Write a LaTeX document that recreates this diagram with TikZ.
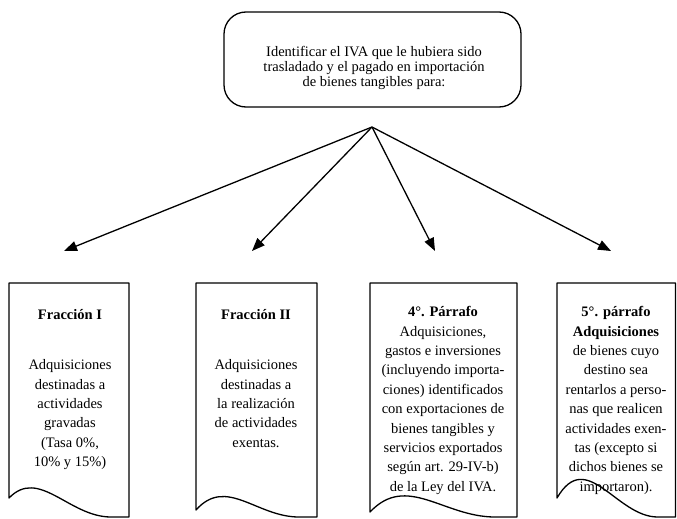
\documentclass[tikz,border=0pt]{standalone}
\usepackage{fontspec}
\setmainfont{Liberation Serif}
\usetikzlibrary{arrows.meta}
\newcommand{\docpath}[5]{% #1 left, #2 right, #3 top, #4 left bottom, #5 wave control
  \draw[outline] (#2,517) -- (#2,#3) -- (#1,#3) -- (#1,#4)
    .. controls ({#1+0.25*(#2-#1)},#5) and ({#1+0.5*(#2-#1)},517) .. ({#1+0.85*(#2-#1)},517) -- cycle;}
\begin{document}
\begin{tikzpicture}[x=1pt,y=-1pt,
  outline/.style={line width=1.3pt, line join=round},
  fanarrow/.style={line width=1.3pt, -{Triangle[length=13pt,width=10pt]}},
  toptext/.style={inner sep=0pt, align=center, anchor=north, font=\fontsize{14.5}{15}\selectfont},
  boxtext/.style={inner sep=0pt, align=center, anchor=north, font=\fontsize{14.5}{19.4}\selectfont},
]
\useasboundingbox (0,0) rectangle (677,519);
% top box
\node[outline, draw, rounded corners=22pt, minimum width=297pt, minimum height=95pt, inner sep=0pt] (top) at (372.5,59.5) {};
\node[toptext] (toptxt) at (374,46) {\strut Identificar el IVA que le hubiera sido\\
  trasladado y el pagado en importación\\ de bienes tangibles para:};
% fan of arrows
\coordinate (fan) at (372,127);
\coordinate (tip1) at (64,251);
\coordinate (tip2) at (252,251);
\coordinate (tip3) at (435,251);
\coordinate (tip4) at (611,251);
\foreach \t in {tip1,tip2,tip3,tip4} \draw[fanarrow] (fan) -- (\t);
% document boxes
\docpath{9}{129}{283}{498}{467}
\docpath{196}{317}{283}{510}{476}
\docpath{370}{517}{283}{512}{473}
\docpath{557}{675.5}{283}{498}{447}
\node[boxtext] (b1) at (70,305.9) {\strut\textbf{Fracción I}\\[30.6pt]
  Adquisiciones\\ destinadas a\\ actividades\\ gravadas\\ (Tasa 0\%,\\ 10\% y 15\%)};
\node[boxtext] (b2) at (256,305.9) {\strut\textbf{Fracción II}\\[30.6pt]
  Adquisiciones\\ destinadas a\\ la realización\\ de actividades\\ exentas.};
\node[boxtext] (b3) at (443,302.9) {\strut\textbf{4°. Párrafo}\\
  Adquisiciones,\\ gastos e inversiones\\ (incluyendo importa-\\ ciones) identificados\\
  con exportaciones de\\ bienes tangibles y\\ servicios exportados\\ según art. 29-IV-b)\\ de la Ley del IVA.};
\node[boxtext] (b4) at (616,302.9) {\strut\textbf{5°. párrafo}\\
  \textbf{Adquisiciones}\\ de bienes cuyo\\ destino sea\\ rentarlos a perso-\\ nas que realicen\\
  actividades exen-\\ tas (excepto si\\ dichos bienes se\\ importaron).};
\end{tikzpicture}
\end{document}
